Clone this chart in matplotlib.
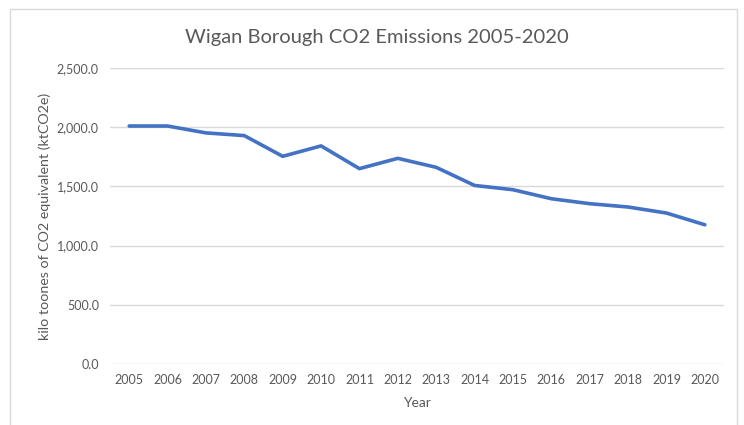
import matplotlib
matplotlib.use('Agg')
import matplotlib.pyplot as plt
from matplotlib.patches import Rectangle
from matplotlib.ticker import FuncFormatter

years = ['2005', '2006', '2007', '2008', '2009', '2010', '2011', '2012',
         '2013', '2014', '2015', '2016', '2017', '2018', '2019', '2020']
emissions = [2010, 2010, 1952, 1929, 1754, 1842, 1650, 1737,
             1661, 1508, 1472, 1396, 1354, 1326, 1275, 1176]
y_ticks = [0, 500, 1000, 1500, 2000, 2500]

plt.rcParams['font.family'] = ['Lato', 'DejaVu Sans']
text_col = '#595959'

fig = plt.figure(figsize=(7.44, 4.25), dpi=100)
# light grey chart-area border (bottom edge runs off the image)
fig.patches.append(Rectangle((10 / 744, -5 / 425), 727 / 744, 421 / 425,
                             transform=fig.transFigure, fill=False,
                             edgecolor='#D9D9D9', linewidth=1))
ax = fig.add_axes([110 / 744, 1 - 364 / 425, 614 / 744, 296 / 425])

x = range(len(years))
ax.plot(x, emissions, color='#4472C4', linewidth=2.6, solid_capstyle='round', zorder=3)

ax.set_xlim(-0.5, len(years) - 0.5)
ax.set_ylim(0, 2500)
ax.set_yticks(y_ticks)
ax.yaxis.set_major_formatter(FuncFormatter(lambda v, p: f'{v:,.1f}'))
ax.set_xticks(list(x))
ax.set_xticklabels(years)
ax.grid(axis='y', color='#D9D9D9', linewidth=1)
ax.set_axisbelow(True)
for s in ax.spines.values():
    s.set_visible(False)
ax.tick_params(axis='both', length=0, labelsize=9, colors=text_col)
ax.tick_params(axis='x', pad=7)
ax.tick_params(axis='y', pad=8)

ax.set_xlabel('Year', fontsize=10, color=text_col, labelpad=8)
ax.set_ylabel('kilo toones of CO2 equivalent (ktCO2e)', fontsize=10.3, color=text_col, labelpad=4)
fig.text(377 / 744, 1 - 38 / 425, 'Wigan Borough CO2 Emissions 2005-2020',
         ha='center', va='center', fontsize=14.5, color=text_col)

fig.savefig('out.png', dpi=100)
